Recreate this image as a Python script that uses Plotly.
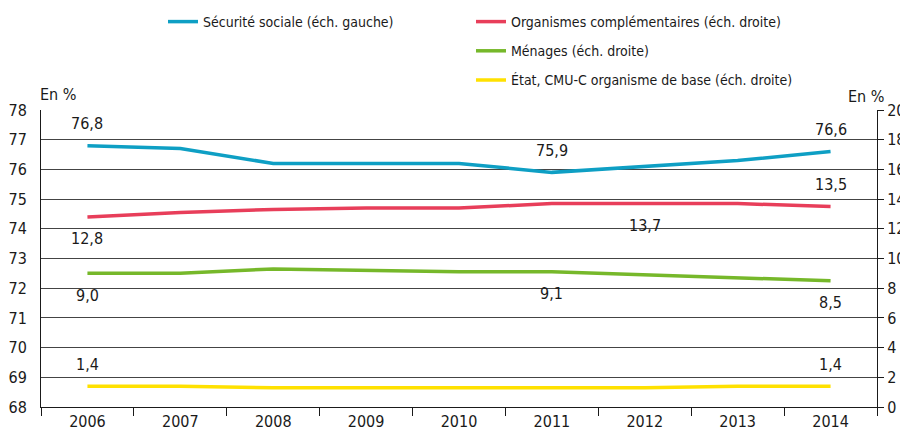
import plotly.graph_objects as go

years = ["2006", "2007", "2008", "2009", "2010", "2011", "2012", "2013", "2014"]
securite_sociale = [76.8, 76.7, 76.2, 76.2, 76.2, 75.9, 76.1, 76.3, 76.6]
organismes_compl = [12.8, 13.1, 13.3, 13.4, 13.4, 13.7, 13.7, 13.7, 13.5]
menages = [9.0, 9.0, 9.3, 9.2, 9.1, 9.1, 8.9, 8.7, 8.5]
etat_cmu = [1.4, 1.4, 1.3, 1.3, 1.3, 1.3, 1.3, 1.4, 1.4]

names = [
    "Sécurité sociale (éch. gauche)",
    "Organismes complémentaires (éch. droite)",
    "Ménages (éch. droite)",
    "État, CMU-C organisme de base (éch. droite)",
]
colors = ["#0e9fc4", "#e83e5a", "#76b82a", "#ffe100"]

# labelled points: (index, position) ; +1 above, -1 below
label_spec = [
    [(0, 1), (5, 1), (8, 1)],
    [(0, -1), (6, -1), (8, 1)],
    [(0, -1), (5, -1), (8, -1)],
    [(0, 1), (8, 1)],
]

FONT = "DejaVu Sans Condensed, Liberation Sans Narrow, Arial Narrow, sans-serif"
TXT = "#1a1a1a"

fig = go.Figure()
series = [securite_sociale, organismes_compl, menages, etat_cmu]
axes = ["y", "y2", "y2", "y2"]
legends = ["legend", "legend2", "legend2", "legend2"]
for i, (vals, nm, col, ax, lg) in enumerate(zip(series, names, colors, axes, legends)):
    fig.add_trace(go.Scatter(
        x=years, y=vals, name=nm, mode="lines",
        line=dict(color=col, width=3.5),
        yaxis=ax, legend=lg, legendgroup=f"g{i}",
    ))

# page has an 8px body margin: figure is sized to fit the window
OFF = 8
W, H = 908 - OFF, 433 - OFF
L, T = 41 - OFF, 110 - OFF
R, B = 31, 26
pw, ph = W - L - R, H - T - B

def px_x(v):  # window pixel -> paper
    return (v - OFF - L) / pw

def px_y(v):
    return 1 + (T - (v - OFF)) / ph

annotations = []
for vals, ax, spec in zip(series, axes, label_spec):
    for idx, pos in spec:
        annotations.append(dict(
            x=idx, y=vals[idx], xref="x", yref=ax,
            text=f"{vals[idx]:.1f}".replace(".", ","),
            showarrow=False, yshift=22 * pos,
            font=dict(family=FONT, size=16, color=TXT),
            xanchor="center", yanchor="middle",
        ))

annotations.append(dict(x=px_x(58), y=px_y(95), xref="paper", yref="paper", text="En %",
                        showarrow=False, xanchor="center", yanchor="middle",
                        font=dict(family=FONT, size=16, color=TXT)))
annotations.append(dict(x=px_x(866), y=px_y(96), xref="paper", yref="paper", text="En %",
                        showarrow=False, xanchor="center", yanchor="middle",
                        font=dict(family=FONT, size=16, color=TXT)))

fig.update_layout(
    width=W, height=H,
    margin=dict(l=L, r=R, t=T, b=B, autoexpand=False),
    paper_bgcolor="white", plot_bgcolor="white",
    font=dict(family=FONT, size=16, color=TXT),
    separators=", ",
    annotations=annotations,
    showlegend=True,
    legend=dict(x=px_x(163), y=px_y(6), xanchor="left", yanchor="top",
                font=dict(family=FONT, size=14, color=TXT),
                bgcolor="rgba(0,0,0,0)", tracegroupgap=8, itemwidth=30),
    legend2=dict(x=px_x(471), y=px_y(6), xanchor="left", yanchor="top",
                 font=dict(family=FONT, size=14, color=TXT),
                 bgcolor="rgba(0,0,0,0)", tracegroupgap=8, itemwidth=30,
                 traceorder="grouped"),
    xaxis=dict(type="category", range=[-0.5, 8.5], tickson="boundaries",
               ticks="outside", ticklen=8, tickcolor=TXT, tickwidth=1,
               showline=True, linecolor=TXT, linewidth=1,
               showgrid=False, zeroline=False,
               tickfont=dict(family=FONT, size=16, color=TXT)),
    yaxis=dict(range=[68, 78], dtick=1, tick0=68, showgrid=True,
               gridcolor="#444444", gridwidth=1, zeroline=False,
               showline=True, linecolor=TXT, linewidth=1, ticks="",
               ticklabelstandoff=10,
               tickfont=dict(family=FONT, size=16, color=TXT)),
    yaxis2=dict(range=[0, 20], dtick=2, tick0=0, overlaying="y", side="right",
                showgrid=False, zeroline=False,
                showline=True, linecolor=TXT, linewidth=1,
                ticks="outside", ticklen=6, tickcolor=TXT,
                tickfont=dict(family=FONT, size=16, color=TXT)),
)

fig.write_html("out.html")
